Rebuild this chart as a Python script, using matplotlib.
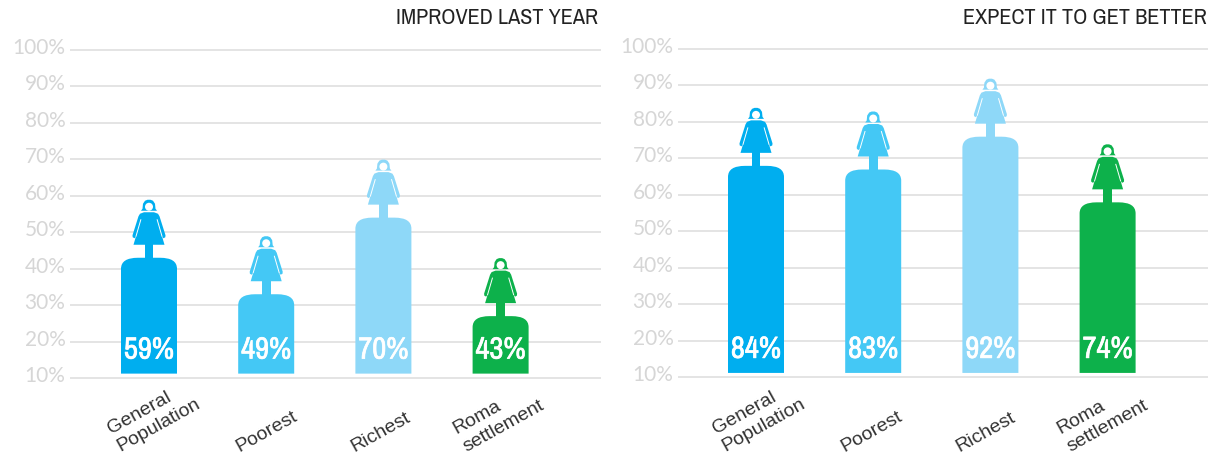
import matplotlib
matplotlib.use('Agg')
import matplotlib.pyplot as plt
import matplotlib.patheffects as pe
from matplotlib.path import Path
from matplotlib.patches import PathPatch, Polygon, Ellipse

titles = ['IMPROVED LAST YEAR', 'EXPECT IT TO GET BETTER']
categories = ['General\nPopulation', 'Poorest', 'Richest', 'Roma\nsettlement']
improved = [59, 49, 70, 43]
expect = [84, 83, 92, 74]
colors = ['#00aeef', '#44c8f5', '#8ed8f8', '#0db14b']
ticks = [10, 20, 30, 40, 50, 60, 70, 80, 90, 100]

W, H = 1218, 456
NARROW = ['Archivo Narrow', 'Liberation Sans']
plt.rcParams['font.family'] = NARROW
fig = plt.figure(figsize=(W / 100, H / 100), dpi=100)


def draw_person(ax, i, v, c, ux, uy):
    # offsets are in pixels below the top of the head, which sits at the value
    def pt(dx, dy):
        return (i + dx * ux, v - (dy + 0.5) * uy)

    # rounded column
    bottom = 11.2
    rx, ry = 17, 11
    top = v - 58.5 * uy
    hw = 28
    verts = [(i - hw * ux, bottom), (i - hw * ux, top - ry * uy), (i - hw * ux, top), (i - (hw - rx) * ux, top),
             (i + (hw - rx) * ux, top), (i + hw * ux, top), (i + hw * ux, top - ry * uy), (i + hw * ux, bottom),
             (i - hw * ux, bottom)]
    codes = [Path.MOVETO, Path.LINETO, Path.CURVE3, Path.CURVE3, Path.LINETO, Path.CURVE3, Path.CURVE3,
             Path.LINETO, Path.CLOSEPOLY]
    ax.add_patch(PathPatch(Path(verts, codes), fc=c, ec='none', zorder=3))
    # stem
    ax.add_patch(Polygon([pt(-4.3, 44), pt(4.3, 44), pt(4.3, 60), pt(-4.3, 60)], fc=c, ec='none', zorder=3))
    # dress and arms
    right = [(5, 12.5), (9, 14), (10.5, 16.5), (16.5, 35.5), (16.3, 37.5), (14.5, 38.5), (13, 36.5), (15.5, 45)]
    left = [(-x, y) for x, y in reversed(right)]
    ax.add_patch(Polygon([pt(x, y) for x, y in right + left], fc=c, ec='none', zorder=3))
    # white lines between arms and skirt
    for s in (-1, 1):
        ax.plot(*zip(pt(s * 8.2, 20), pt(s * 13, 36.5)), color='white', lw=0.7, zorder=4)
    # hair
    hair = [(-8, 11), (-6.5, 9), (-6, 4), (-4, 1), (-1.5, 0), (1.5, 0), (4, 1), (6, 4), (6.5, 9), (8, 11)]
    ax.add_patch(Polygon([pt(x, y) for x, y in hair], fc=c, ec='none', zorder=3))
    # face
    ax.add_patch(Ellipse(pt(0, 7), 8 * ux, 8 * uy, fc='white', ec='none', zorder=4))


def panel(x0, x1, y10, y100, first, title, values, nudge, title_right):
    ax = fig.add_axes([x0 / W, 1 - y10 / H, (x1 - x0) / W, (y10 - y100) / H])
    sx = 117.2
    ax.set_xlim((x0 - first) / sx, (x1 - first) / sx)
    ax.set_ylim(10, 100)
    ax.axis('off')
    ux = 1 / sx                       # data units per pixel
    uy = 90 / (y10 - y100)
    for t in ticks:
        ax.plot([0, 1], [t, t], transform=ax.get_yaxis_transform(), color='#dcdcdc', lw=1.1,
                solid_capstyle='butt', zorder=1, clip_on=False)
        ax.text(-4.5 / (x1 - x0), t + 3 * uy, f'{t}%', transform=ax.get_yaxis_transform(), ha='right', va='center',
                fontsize=15, color='#d6d6d6', family='Lato', clip_on=False)
    for i, (v, c) in enumerate(zip(values, colors)):
        draw_person(ax, i, v, c, ux, uy)
        ax.text(i, 11.2 + 6.6, f'{v}%', color='white', fontsize=22, fontweight='bold',
                ha='center', va='center', zorder=5,
                path_effects=[pe.withStroke(linewidth=0.5, foreground='white')])
        ax.text(i + nudge[i] * ux, 10 - (455 - y10) * uy, categories[i], rotation=29, ha='center', va='bottom',
                multialignment='left', fontsize=14, color='#333333', clip_on=False,
                family='Liberation Sans', linespacing=1.2)
    fig.text(title_right / W, 1 - 18 / H, title, ha='right', va='center', fontsize=16, color='#222222')


panel(70, 601, 379, 50.7, 149, titles[0], improved, [5, 1, -3, -2], 598)
panel(678, 1208, 378.3, 50, 756, titles[1], expect, [3, -1, -5, -5], 1207)
fig.savefig('out.png', dpi=100)
